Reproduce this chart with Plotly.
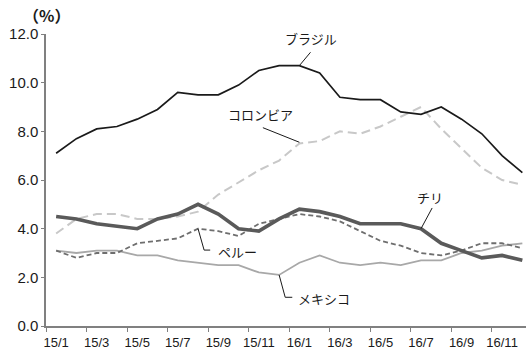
import plotly.graph_objects as go

# Monthly consumer-price inflation, Jan 2015 - Dec 2016 (year-on-year, %)
months = ["15/1", "15/2", "15/3", "15/4", "15/5", "15/6", "15/7", "15/8", "15/9", "15/10", "15/11", "15/12",
          "16/1", "16/2", "16/3", "16/4", "16/5", "16/6", "16/7", "16/8", "16/9", "16/10", "16/11", "16/12"]

brazil = [7.1, 7.7, 8.1, 8.2, 8.5, 8.9, 9.6, 9.5, 9.5, 9.9, 10.5, 10.7,
          10.7, 10.4, 9.4, 9.3, 9.3, 8.8, 8.7, 9.0, 8.5, 7.9, 7.0, 6.3]
colombia = [3.8, 4.4, 4.6, 4.6, 4.4, 4.4, 4.5, 4.7, 5.4, 5.9, 6.4, 6.8,
            7.5, 7.6, 8.0, 7.9, 8.2, 8.6, 9.0, 8.1, 7.3, 6.5, 6.0, 5.8]
chile = [4.5, 4.4, 4.2, 4.1, 4.0, 4.4, 4.6, 5.0, 4.6, 4.0, 3.9, 4.4,
         4.8, 4.7, 4.5, 4.2, 4.2, 4.2, 4.0, 3.4, 3.1, 2.8, 2.9, 2.7]
peru = [3.1, 2.8, 3.0, 3.0, 3.4, 3.5, 3.6, 4.0, 3.9, 3.7, 4.2, 4.4,
        4.6, 4.5, 4.3, 3.9, 3.5, 3.3, 3.0, 2.9, 3.1, 3.4, 3.4, 3.2]
mexico = [3.1, 3.0, 3.1, 3.1, 2.9, 2.9, 2.7, 2.6, 2.5, 2.5, 2.2, 2.1,
          2.6, 2.9, 2.6, 2.5, 2.6, 2.5, 2.7, 2.7, 3.0, 3.1, 3.3, 3.4]

tick_labels = months[::2]
y_ticks = [0, 2, 4, 6, 8, 10, 12]

idx = list(range(len(months)))
JP = "Noto Sans CJK JP"
SANS = "Liberation Sans"
AXIS = "#808080"
INK = "#1a1a1a"

fig = go.Figure()

series = [
    ("メキシコ", mexico, dict(color="#a8a8a8", width=1.8)),
    ("ペルー", peru, dict(color="#6e6e6e", width=1.8, dash="5px,3px")),
    ("コロンビア", colombia, dict(color="#c8c8c8", width=2.0, dash="9px,5px")),
    ("チリ", chile, dict(color="#5a5a5a", width=3.6)),
    ("ブラジル", brazil, dict(color=INK, width=1.7)),
]
for name, vals, line in series:
    fig.add_trace(go.Scatter(x=idx, y=vals, mode="lines", name=name, line=line,
                             hoverinfo="x+y", showlegend=False))

# Series labels with leader lines (data coordinates)
def leader(points):
    path = "M " + " L ".join(f"{x},{y}" for x, y in points)
    fig.add_shape(type="path", path=path, xref="x", yref="y",
                  line=dict(color=INK, width=1))

def label(text, x, y):
    fig.add_annotation(text=text, x=x, y=y, xref="x", yref="y", showarrow=False,
                       font=dict(family=JP, size=13, color=INK),
                       xanchor="center", yanchor="middle")

# ブラジル -> 16/1
leader([(12, brazil[12]), (12.55, brazil[12] + 0.55)])
label("ブラジル", 12.55, brazil[12] + 1.1)
# コロンビア -> 16/1
leader([(12, colombia[12] + 0.05), (10.2, colombia[12] + 0.65)])
label("コロンビア", 10.1, colombia[12] + 1.2)
# チリ -> 16/7
leader([(18, chile[18]), (18.55, chile[18] + 0.85)])
label("チリ", 18.45, chile[18] + 1.3)
# ペルー -> 15/8
leader([(7, peru[7]), (7.3, 3.12), (7.6, 3.12)])
label("ペルー", 8.95, 3.08)
# メキシコ -> 15/12
leader([(11, mexico[11]), (11.3, 1.18), (11.65, 1.18)])
label("メキシコ", 13.2, 1.15)

fig.add_annotation(text="<b>（%）</b>", xref="paper", yref="paper", x=0.0, y=1.065,
                   showarrow=False, xanchor="center", yanchor="middle",
                   font=dict(family=JP, size=16, color=INK))

fig.update_layout(
    width=526, height=355,
    margin=dict(l=46, r=0, t=34, b=29),
    paper_bgcolor="white", plot_bgcolor="white",
    xaxis=dict(
        range=[-0.5, 23.18], showgrid=False, zeroline=False,
        showline=True, linecolor=AXIS, linewidth=1.5,
        tickmode="array", tickvals=idx[::2], ticktext=tick_labels, ticks="",
        ticklabelstandoff=4,
        tickfont=dict(family=SANS, size=13, color=INK),
        minor=dict(tickmode="array", tickvals=[i - 0.5 for i in idx[::2]],
                   ticks="outside", ticklen=4, tickcolor=AXIS, tickwidth=1),
    ),
    yaxis=dict(
        range=[0, 12], showgrid=False, zeroline=False,
        showline=True, linecolor=AXIS, linewidth=1.5,
        tickmode="array", tickvals=y_ticks, tickformat=".1f",
        ticks="outside", ticklen=3, tickcolor=AXIS, tickwidth=1,
        tickfont=dict(family=SANS, size=15, color=INK),
    ),
)

fig.write_html("out.html")
